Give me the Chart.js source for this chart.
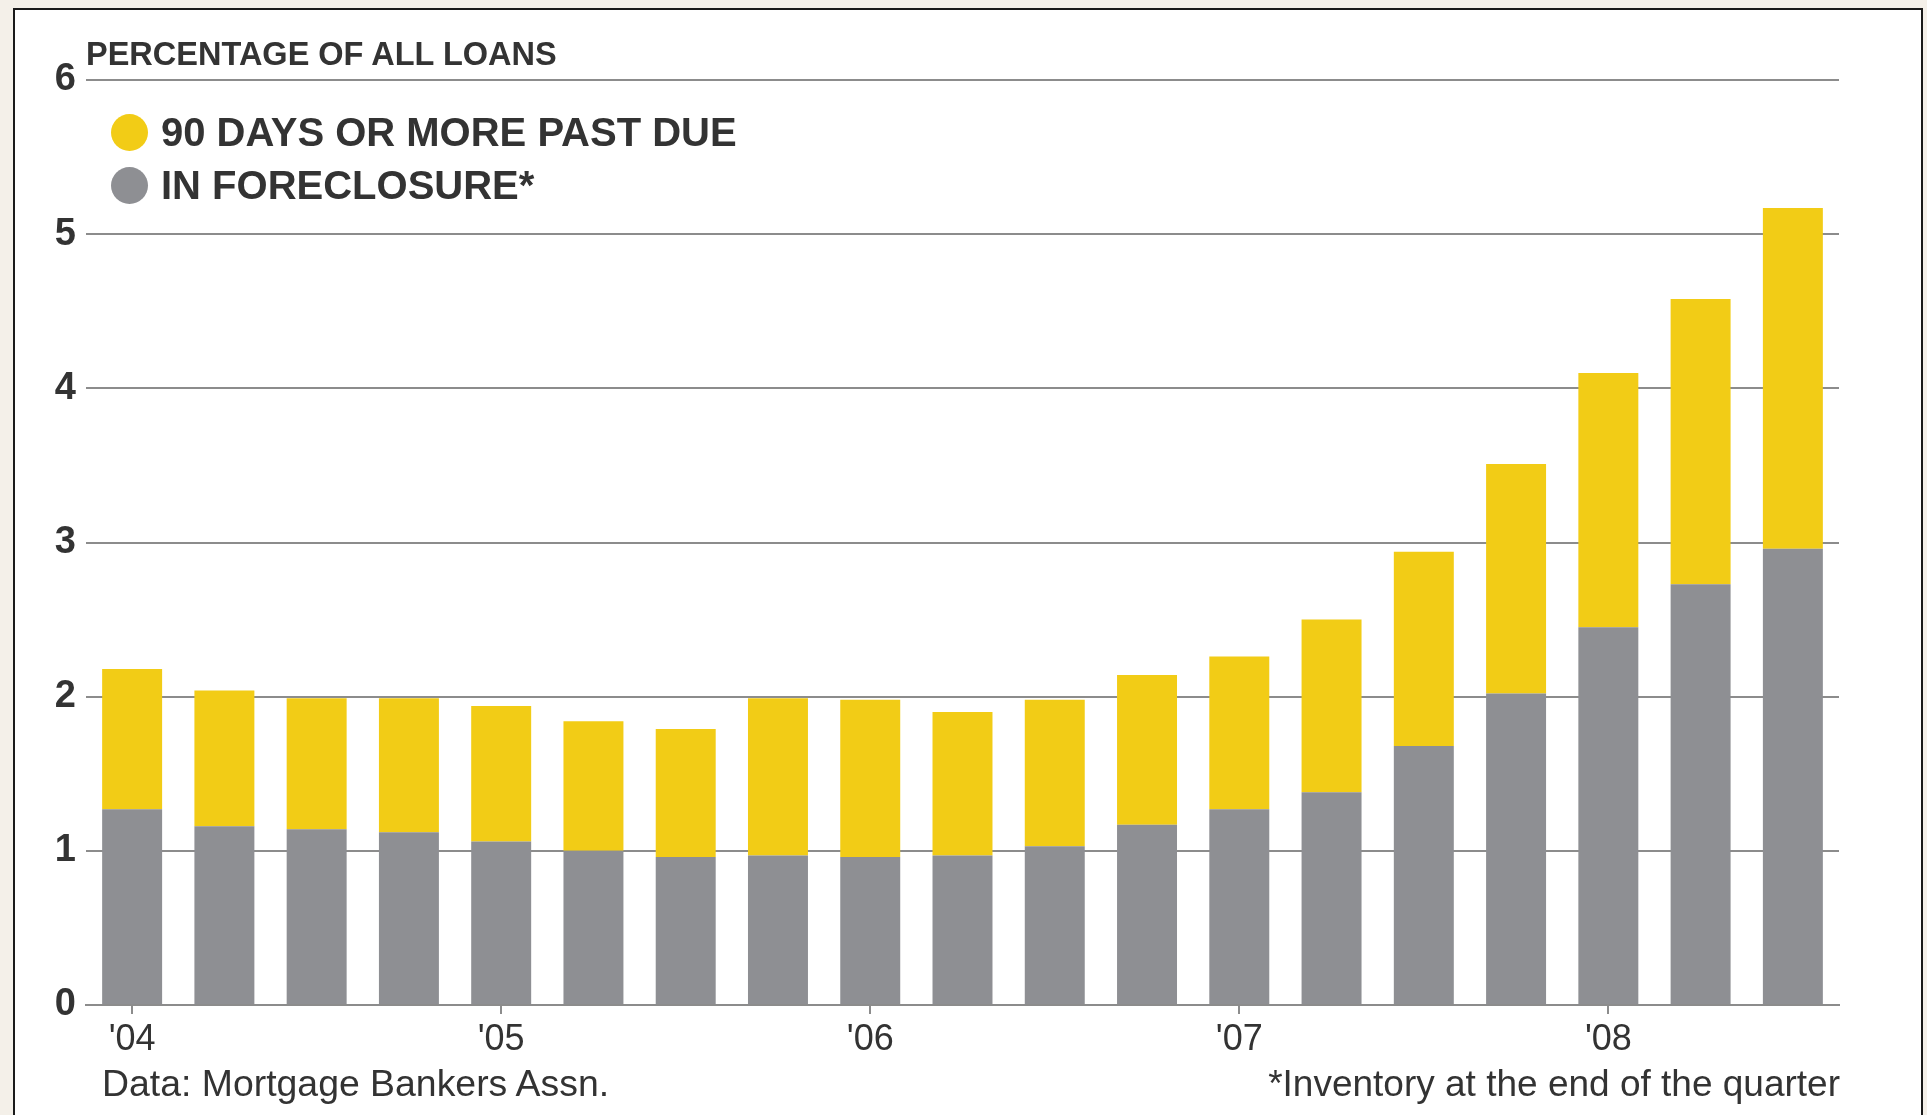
<!DOCTYPE html>
<html>
<head>
<meta charset="utf-8">
<script src="https://cdn.jsdelivr.net/npm/chart.js@4"></script>
<style>
  body { margin: 0; background: #f4f0e9; font-family: "Liberation Sans", Arial, sans-serif; }
  #frame { position: absolute; left: 13px; top: 8px; width: 1906px; height: 1130px; border: 2px solid #1a1a1a; background: #fff; }
  #wrap { position: absolute; left: 0; top: 0; width: 1927px; height: 1115px; }
  .txt { position: absolute; color: #333; white-space: nowrap; line-height: 1; }
  #title { left: 86px; top: 38px; font-size: 32.5px; font-weight: bold; }
  .leg { left: 111px; font-size: 40px; font-weight: bold; display: flex; align-items: center; }
  .dot { width: 37px; height: 37px; border-radius: 50%; margin-right: 13px; }
  #src { left: 102px; top: 1065px; font-size: 37.4px; }
  #note { right: 87px; top: 1065px; font-size: 37px; }
</style>
</head>
<body>
<div id="frame"></div>
<div id="wrap"><canvas id="myChart" width="1927" height="1115"></canvas></div>
<div class="txt" id="title">PERCENTAGE OF ALL LOANS</div>
<div class="txt leg" style="top:112px"><span class="dot" style="background:#f2cc16"></span>90 DAYS OR MORE PAST DUE</div>
<div class="txt leg" style="top:165px"><span class="dot" style="background:#8e8f93"></span>IN FORECLOSURE*</div>
<div class="txt" id="src">Data: Mortgage Bankers Assn.</div>
<div class="txt" id="note">*Inventory at the end of the quarter</div>
<script>
const quarters = [
  '2004 Q1', '2004 Q2', '2004 Q3', '2004 Q4',
  '2005 Q1', '2005 Q2', '2005 Q3', '2005 Q4',
  '2006 Q1', '2006 Q2', '2006 Q3', '2006 Q4',
  '2007 Q1', '2007 Q2', '2007 Q3', '2007 Q4',
  '2008 Q1', '2008 Q2', '2008 Q3',
];
const yearTicks = [
  "'04", '', '', '', "'05", '', '', '', "'06", '', '', '',
  "'07", '', '', '', "'08", '', '',
];
// share of loans in foreclosure (bottom of each bar)
const foreclosure = [
  1.27, 1.16, 1.14, 1.12, 1.06, 1.00, 0.96, 0.97, 0.96, 0.97,
  1.03, 1.17, 1.27, 1.38, 1.68, 2.02, 2.45, 2.73, 2.96,
];
// share 90 days or more past due (stacked on top)
const pastDue = [
  0.91, 0.88, 0.85, 0.87, 0.88, 0.84, 0.83, 1.02, 1.02, 0.93,
  0.95, 0.97, 0.99, 1.12, 1.26, 1.49, 1.65, 1.85, 2.21,
];

const ctx = document.getElementById('myChart');
new Chart(ctx, {
  type: 'bar',
  data: {
    labels: quarters,
    datasets: [
      {
        label: 'IN FORECLOSURE*',
        data: foreclosure,
        backgroundColor: '#8e8f93',
        barPercentage: 0.65,
        categoryPercentage: 1,
      },
      {
        label: '90 DAYS OR MORE PAST DUE',
        data: pastDue,
        backgroundColor: '#f2cc16',
        barPercentage: 0.65,
        categoryPercentage: 1,
      },
    ],
  },
  options: {
    responsive: false,
    animation: false,
    layout: { padding: { left: 46, right: 88, top: 80, bottom: 50 } },
    plugins: { legend: { display: false }, tooltip: { enabled: false } },
    scales: {
      x: {
        stacked: true,
        afterFit: (s) => { s.height = 60; },
        border: { display: true, color: '#8c8c8c', width: 2 },
        grid: {
          drawOnChartArea: false,
          offset: false,
          tickLength: 9,
          lineWidth: 2,
          tickColor: (c) => (yearTicks[c.index] ? '#8c8c8c' : 'rgba(0,0,0,0)'),
        },
        ticks: {
          autoSkip: false,
          maxRotation: 0,
          padding: 4,
          color: '#333',
          font: { family: 'Liberation Sans', size: 36 },
          callback: (value, index) => yearTicks[index],
        },
      },
      y: {
        stacked: true,
        min: 0,
        max: 6,
        afterFit: (s) => { s.width = 40; },
        border: { display: false },
        grid: { color: '#8c8c8c', lineWidth: 2, drawTicks: false },
        ticks: {
          stepSize: 1,
          padding: 10,
          color: '#333',
          font: { family: 'Liberation Sans', size: 38, weight: 'bold' },
        },
      },
    },
  },
});
</script>
</body>
</html>
